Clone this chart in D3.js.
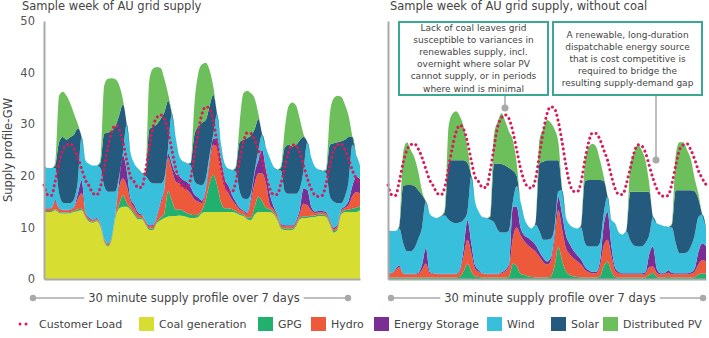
<!DOCTYPE html>
<html>
<head>
<meta charset="utf-8">
<script src="https://cdn.jsdelivr.net/npm/d3@7"></script>
<style>
  body { margin: 0; background: #fff; }
  svg { display: block; font-family: "DejaVu Sans", Verdana, sans-serif; }
</style>
</head>
<body>
<script>
// one sample every 2 hours over the week (t = 0 ... 168 h)
const hours = d3.range(0, 170, 2);

// customer load, GW (same curve in both panels)
const load = [
  18.2,16.3,16.2,19,22.5,25,26,26.2,25.2,23.5,21.3,19.2,
  18,16.6,16.3,17.8,21.5,25.5,28.5,29.8,29,26.5,23,19.8,
  18.8,17.7,17.8,21,25.5,29.5,31.3,31.8,31,28.5,25,21.5,
  19,17.8,17.6,19.5,24,28.5,32,33.4,33,30.5,26.5,22,
  18.5,17,16.9,18.8,23,26.5,28.3,28.2,27,25,23,20,
  17.5,16.4,16.4,18.5,21.5,24.5,26,25.8,24.5,22,19.5,17.5,
  16.3,16,16.2,18.5,22,25,26,26.2,25,23.2,21,19.5,18.3];

// ---- left panel: grid supply with coal (GW)
const coal = [
  13,13,13,13.3,12.8,12.7,12.7,12.8,13,13.2,13.3,12,
  11.1,10.9,11.2,10.1,7.2,6.3,7.6,11.8,13.7,14,14,13.4,
  12.4,11.6,11.6,10.5,9.5,9.5,10.8,11.4,11.8,12.1,12.2,12.2,
  12.3,12.2,12,11.8,11.8,12,12.8,13,13,13,13,13,
  13,13,13,12.8,12.4,12.2,11.6,11.4,12.5,13,13,13,
  13,12.6,11.5,9.8,9.5,9.5,9.5,10.2,11.6,11.8,11.8,12,
  12,12.2,12.2,12,10.5,9,9.5,12.5,13,13,13,13,13.3];
const gpg = [
  .2,.2,.2,.2,.2,.2,.2,.2,.2,.3,.3,.2,
  .2,.2,.2,.2,.2,.2,.2,.3,.8,2.3,.7,.4,
  .4,.3,.2,.2,.3,.3,.3,.5,.9,4.9,3,1.2,
  1.2,1,.8,.7,.6,.5,.5,2.3,5.5,7.2,5.2,2,
  .7,.7,.5,.4,.3,.3,.3,.5,1.5,3,2,.8,
  .5,.3,.3,.3,.3,.3,.3,.3,.3,.3,.3,.3,
  .3,.3,.3,.3,.3,.3,.3,.3,.3,.4,.6,.8,.8];
const hydro = [
  .4,.4,.5,1.5,.5,.4,.4,.4,.6,2,3,.6,
  .4,.3,.3,.3,.3,.3,.3,.5,3.4,3.2,3.3,1.2,
  1,.6,.5,.4,.4,.5,.8,2.5,4.5,6.5,5.9,5.5,
  5,4.5,4.5,4,3,2.5,1.4,1.7,3.5,5.8,7.3,6.5,
  4.2,2.9,1.8,1.2,.8,.6,.6,3.1,4.5,4.5,5.5,4.7,
  1,.6,.5,.4,.4,.4,.4,.5,.8,2.5,2.2,1,
  .5,.4,.4,.4,.4,.4,.4,.4,.5,1,2.5,3,2.5];
const storage = [
  .1,.1,.1,.3,.2,.1,.1,.1,.2,1,2.5,.3,
  .2,.1,.1,.1,.1,.1,.1,.2,1.3,4.5,3,.6,
  .6,.4,.2,.2,.2,.2,.3,.5,.5,.8,1.2,1.5,
  1.3,1.5,1.5,1.3,1,.8,.5,.5,.8,1.2,1.5,1.5,
  1.5,1.5,1,.5,.3,.2,.3,.8,2,2.5,4.5,2.6,
  2.1,.6,.3,.2,.2,.2,.2,.3,.8,3,3,.8,
  .3,.3,.3,.3,.3,.3,.3,.3,.3,.8,2,3,2.8];
const wind = [
  8.3,7.8,7.7,6.2,2.9,1.4,1.3,1.2,1.5,2.5,8.4,9.9,
  10.4,10.5,10.2,10.8,10.2,10,8.7,4.2,.8,.5,9,8.9,
  8,8.5,8,8.7,8.6,8,6.3,3.6,1.8,1.2,9.7,7.1,
  3.9,3.6,3.6,4.2,2.6,2.5,3,2,1.2,.8,5,3.5,
  3,3.3,4.8,5.9,3.2,2.3,2.7,.7,.5,2,3,4.4,
  6.9,7.7,8.6,10.3,6.6,6.1,6.1,5.2,4,3.4,9.2,9.6,
  8.7,8,7.8,7.5,4.5,5,4.2,1.2,1.9,3.8,7.9,4.2,2.6];
const solar = [
  0,0,0,.5,9.9,12.7,12.3,12.8,12.5,10.2,0,0,
  0,0,0,1,10.2,11.5,11.8,12.6,11.8,9.3,0,0,
  0,0,0,.5,10,11,11.5,12.5,12.8,9,0,0,
  0,0,0,.5,9,11.2,12.1,11.3,9.5,7.7,0,0,
  0,0,0,.7,9.5,11.4,11.8,11.3,8,6,0,0,
  0,0,0,.5,8.5,9.5,9.2,9.5,9.4,6.5,0,0,
  0,0,0,.5,10,11.3,11.8,12,11,8.5,1.5,0,0];
const pv = [
  0,0,0,.5,9,8.8,8.5,6.5,4,.8,0,0,
  0,0,0,.5,9.3,10.4,10.2,9.1,5.7,.9,0,0,
  0,0,0,.5,9.5,11.3,11.1,9.9,6.5,1.3,.3,0,
  0,0,0,0,6,10.3,11.3,11.1,7,1.6,0,0,
  0,0,0,.3,3.5,9,9.2,8.2,6,1,0,0,
  0,0,0,.3,3.5,7.5,8.5,7.6,4.1,.5,0,0,
  0,0,0,.3,6,8.7,9,8.6,6.8,4,0,0,0];

// ---- right panel: same week without coal (GW)
const ncGpg = [
  .3,.3,.3,.3,.3,.3,.3,.3,.3,.3,.3,.3,
  .3,.3,.3,.3,.3,.3,.3,.5,1.5,3,1.5,.5,
  .4,.3,.3,.3,.3,.3,.3,.3,.5,3,2.5,1,
  .8,.5,.4,.3,.3,.3,.3,.5,2.5,6.3,3.5,1.5,
  .8,.5,.4,.3,.3,.3,.3,.3,.5,2.5,3.4,1.5,
  .4,.3,.3,.3,.3,.3,.3,.3,.3,.8,1.2,.4,
  .3,.3,.4,.3,.3,.3,.3,.3,.3,.4,.8,1.1,1];
const ncHydro = [
  .8,.8,1.5,2,.7,.6,.6,.6,.7,1.5,2.7,.8,
  .7,.6,.6,.6,.6,.6,.6,1,3,4.6,3.5,1.5,
  1,.7,.6,.6,.6,.6,.8,1.2,2,5,7.5,7.5,
  6.5,6,5.5,5,4,3,2.5,3,5,7,6,4.5,
  4,3.5,3,2.5,1.5,1,.8,.8,2,4,4.2,3,
  1.2,.8,.6,.6,.6,.6,.6,.6,.7,1.5,1.2,.8,
  .6,.6,.8,.6,.6,.6,.6,.6,.7,1,2,2.6,2.4];
const ncStorage = [
  .1,.1,.2,.3,.1,.1,.1,.1,.2,1,3,.3,
  .1,.1,.1,.1,.1,.1,.1,.3,1.5,3.8,2,.6,
  .3,.1,.1,.1,.1,.1,.2,.3,.5,6,4,1.5,
  1.2,1.5,1.5,1.3,1,.8,.6,.6,1.2,2.6,3,2.5,
  2,1.5,1.2,1,.6,.4,.3,.3,1,4,5.4,2,
  .6,.3,.2,.2,.2,.2,.2,.2,.3,2.5,3.9,.8,
  .2,.2,.5,.3,.2,.2,.2,.2,.3,.6,2.5,3.2,3];
const ncWind = [
  8.3,8.1,7.3,7.2,5.9,4.4,4.4,5,6.6,7.2,9,11.3,
  10.9,10.8,11.2,11.3,10.5,10,9.8,9.2,5.5,1.6,13,12.4,
  11.3,10.9,10.8,10.5,10,8.5,7.7,7.2,6.5,1,4,5,
  3.3,2.3,2.4,3.9,4,3.5,4.2,3.7,1.3,1.1,4.7,3.5,
  3.7,4.5,5.2,6.2,4.6,4.6,4.9,4.9,3.5,2.2,3,5,
  8.6,7.6,7.5,8.1,6.4,5.4,5.2,5.2,5.7,3.7,5.7,8.8,
  9.4,9.1,8.4,8.8,5.9,3.9,3.9,4.1,5,6.5,6.7,5.6,3.6];
const ncSolar = [
  0,0,0,.4,11,12.8,12.8,12,9.4,6.3,0,0,
  0,0,0,.7,11,12,12.2,12,11.5,9.5,0,0,
  0,0,0,.5,11.4,12.9,13.3,13,12,6,2,0,
  0,0,0,.5,13.1,15.1,15.4,15.2,13,6,0,0,
  0,0,0,.3,12,12.9,12.9,12.9,12.2,6.3,0,0,
  0,0,0,.3,9.4,10.4,10.6,10.6,9.9,8.4,0,0,
  0,0,0,.5,10.2,12.2,12.2,12,10.9,8.5,3.5,0,0];
const ncPv = [
  0,0,0,.2,6.5,8.3,6.8,5.5,3.6,.7,0,0,
  0,0,0,.5,7,9,9.5,8.5,6.5,3,0,0,
  0,0,0,.3,5.6,8.1,9.8,8.5,7,5.9,2.4,0,
  0,0,0,0,4.6,6.3,7.8,7.3,6,3.5,0,0,
  0,0,0,.2,3.5,6.3,7,6.4,3.8,.8,0,0,
  0,0,0,0,5.1,7.6,9.1,8.1,6.1,1.6,0,0,
  0,0,0,.3,6.8,9.3,9.3,7.8,6,2.5,1,0,0];

const yTicks = [0, 10, 20, 30, 40, 50];

const legendKeys = ["coal","gpg","hydro","storage","wind","solar","pv"];
const legendNames = ["Coal generation","GPG","Hydro","Energy Storage","Wind","Solar","Distributed PV"];

const colors = {
  coal: "#d8dd31", gpg: "#21b06d", hydro: "#ec5a3b", storage: "#7a2e93",
  wind: "#37bfdb", solar: "#245a7d", pv: "#6dbf5c"
};
const loadColor = "#d81b5c";
const greyLine = "#a9a9a9";
const textColor = "#444";

const w = 709;
const h = 338;
const yTop = 21, yBottom = 279;

const svg = d3.select("body").append("svg")
  .attr("width", w)
  .attr("height", h);

const yScale = d3.scaleLinear().domain([0, 50]).range([yBottom, yTop]);

//draws one stacked panel with the dotted load on top
function drawPanel(x0, x1, keys, cols, showTicks, foot) {
  const xScale = d3.scaleLinear().domain([0, 168]).range([x0, x1]);

  const table = hours.map((t, i) => {
    const row = { t: t };
    keys.forEach((k, j) => row[k] = cols[j][i]);
    return row;
  });
  const stacked = d3.stack().keys(keys)(table);

  const area = d3.area()
    .x(d => xScale(d.data.t))
    .y0(d => yScale(d[0]))
    .y1(d => yScale(d[1]))
    .curve(d3.curveMonotoneX);

  const g = svg.append("g");
  g.selectAll("path.layer")
    .data(stacked)
    .enter()
    .append("path")
    .attr("class", "layer")
    .attr("d", area)
    .attr("fill", d => colors[d.key]);

  const line = d3.line()
    .x((d, i) => xScale(hours[i]))
    .y(d => yScale(d))
    .curve(d3.curveMonotoneX);

  g.append("path")
    .datum(load)
    .attr("d", line)
    .attr("fill", "none")
    .attr("stroke", loadColor)
    .attr("stroke-width", 3)
    .attr("stroke-linecap", "round")
    .attr("stroke-dasharray", "0.1 4.8");

  //y axis (labels only on the left panel)
  const yAxis = d3.axisLeft(yScale)
    .tickValues(showTicks ? yTicks : [])
    .tickSize(0)
    .tickPadding(9);
  const ya = g.append("g")
    .attr("transform", "translate(" + x0 + ",0)")
    .call(yAxis);
  ya.select(".domain").attr("stroke", greyLine).attr("stroke-width", 2);
  ya.selectAll("text")
    .attr("font-size", 11.5)
    .attr("font-family", "DejaVu Sans, sans-serif")
    .attr("fill", "#555");

  //x axis: plain line
  const xa = g.append("g")
    .attr("transform", "translate(0," + yBottom + ")")
    .call(d3.axisBottom(xScale).tickValues([]).tickSizeOuter(0));
  xa.select(".domain").attr("stroke", greyLine).attr("stroke-width", 2);

  //"30 minute ..." line with end dots
  const ly = 298;
  const label = svg.append("text")
    .attr("x", foot.mid)
    .attr("y", ly + 4)
    .attr("text-anchor", "middle")
    .attr("font-size", 11.5)
    .attr("fill", textColor)
    .text("30 minute supply profile over 7 days");
  const half = label.node().getComputedTextLength() / 2;
  svg.append("line").attr("x1", foot.left).attr("x2", foot.mid - half - 4)
    .attr("y1", ly).attr("y2", ly).attr("stroke", greyLine).attr("stroke-width", 1.5);
  svg.append("line").attr("x1", foot.mid + half + 4).attr("x2", foot.right)
    .attr("y1", ly).attr("y2", ly).attr("stroke", greyLine).attr("stroke-width", 1.5);
  [foot.left, foot.right].forEach(cx => svg.append("circle")
    .attr("cx", cx).attr("cy", ly).attr("r", 3.2).attr("fill", greyLine));
}

drawPanel(44, 360,
  ["coal","gpg","hydro","storage","wind","solar","pv"],
  [coal, gpg, hydro, storage, wind, solar, pv], true,
  { left: 33, mid: 194, right: 348 });

drawPanel(388, 706,
  ["gpg","hydro","storage","wind","solar","pv"],
  [ncGpg, ncHydro, ncStorage, ncWind, ncSolar, ncPv], false,
  { left: 391, mid: 550, right: 703 });

//titles
svg.append("text").attr("x", 22).attr("y", 10).attr("font-size", 11.5)
  .attr("fill", textColor).text("Sample week of AU grid supply");
svg.append("text").attr("x", 390).attr("y", 10).attr("font-size", 11.5)
  .attr("fill", textColor).text("Sample week of AU grid supply, without coal");

//y label
svg.append("text")
  .attr("transform", "translate(12,150) rotate(-90)")
  .attr("text-anchor", "middle")
  .attr("font-size", 11.5)
  .attr("fill", textColor)
  .text("Supply profile-GW");

//annotation boxes
const boxTeal = "#3aa893";
const notes = [
  { x: 399, w: 149, lines: ["Lack of coal leaves grid", "susceptible to variances in",
      "renewables supply, incl.", "overnight where solar PV",
      "cannot supply, or in periods", "where wind is minimal"], y0: 30.5, px: 505, py: 108 },
  { x: 553, w: 149, lines: ["A renewable, long-duration", "dispatchable energy source",
      "that is cost competitive is", "required to bridge the",
      "resulting supply-demand gap"], y0: 37.6, px: 656, py: 160 }
];
notes.forEach(n => {
  svg.append("line").attr("x1", n.px).attr("x2", n.px).attr("y1", 95).attr("y2", n.py)
    .attr("stroke", greyLine).attr("stroke-width", 1.5);
  svg.append("circle").attr("cx", n.px).attr("cy", n.py).attr("r", 3.5).attr("fill", greyLine);
  svg.append("rect").attr("x", n.x).attr("y", 22).attr("width", n.w).attr("height", 73)
    .attr("fill", "#fff").attr("stroke", boxTeal).attr("stroke-width", 2);
  const t = svg.append("text").attr("text-anchor", "middle").attr("font-size", 9)
    .attr("fill", textColor);
  n.lines.forEach((s, i) => t.append("tspan")
    .attr("x", n.x + n.w / 2).attr("y", n.y0 + i * 12.2).text(s));
});

//legend
const legY = 324;
const legend = svg.append("g").attr("font-size", 11).attr("fill", textColor);
legend.append("circle").attr("cx", 20).attr("cy", legY).attr("r", 1.5).attr("fill", loadColor);
legend.append("circle").attr("cx", 26).attr("cy", legY).attr("r", 1.5).attr("fill", loadColor);
legend.append("text").attr("x", 39).attr("y", legY + 4).text("Customer Load");
const swatchX = [139, 258, 311, 374, 487, 551, 603];
legendKeys.forEach((k, i) => {
  legend.append("rect").attr("x", swatchX[i]).attr("y", legY - 7)
    .attr("width", 15).attr("height", 14).attr("fill", colors[k]);
  legend.append("text").attr("x", swatchX[i] + 20).attr("y", legY + 4).text(legendNames[i]);
});
</script>
</body>
</html>
